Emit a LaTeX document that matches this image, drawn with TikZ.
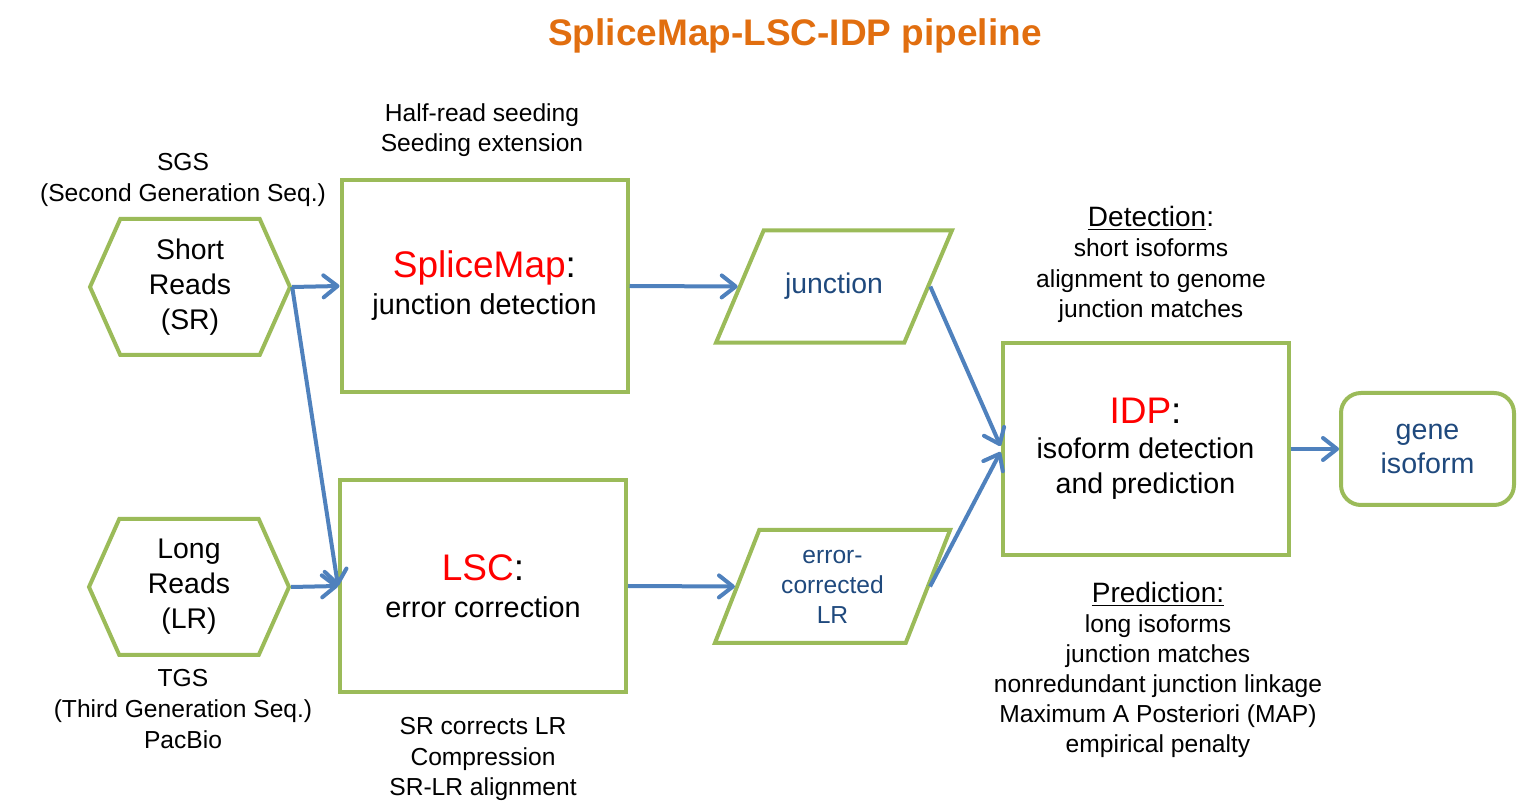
\documentclass[tikz,border=0pt]{standalone}
\usepackage{fontspec}
\setmainfont{Liberation Sans}
\usetikzlibrary{shapes.geometric, shapes.symbols, arrows.meta}

\definecolor{boxgreen}{RGB}{155,187,89}
\definecolor{arrowblue}{RGB}{79,129,189}
\definecolor{darkblue}{RGB}{31,73,125}
\definecolor{titleorange}{RGB}{225,110,15}

\begin{document}
\begin{tikzpicture}[x=0.5pt, y=-0.5pt,
  box/.style={rectangle, draw=boxgreen, line width=2pt, minimum width=143pt, minimum height=106pt, align=center, inner sep=0pt, font=\fontsize{14.4}{18.5}\selectfont},
  reads/.style={signal, signal to=west and east, signal pointer angle=132, draw=boxgreen, line width=2pt, minimum width=100pt, minimum height=68pt, align=center, inner sep=0pt, font=\fontsize{14.2}{17.5}\selectfont},
  data/.style={trapezium, trapezium left angle=67, trapezium right angle=113, draw=boxgreen, line width=2pt, minimum width=118pt, align=center, inner sep=0pt, text=darkblue},
  note/.style={align=center, font=\fontsize{12.3}{15.3}\selectfont},
  arr/.style={-{Straight Barb[length=7pt, width=11pt, round]}, arrowblue, line width=2pt}
]
  \useasboundingbox (0,0) rectangle (1517,812);

  % Title
  \node[font=\fontsize{18.5}{22}\selectfont\bfseries, text=titleorange] (title) at (795,36) {SpliceMap-LSC-IDP pipeline};

  % Input reads
  \node[reads] (sr) at (190,287) {Short\\Reads\\(SR)};
  \node[reads] (lr) at (189,587) {Long\\Reads\\(LR)};
  \node[note] (sgs) at (183,180) {SGS\\(Second Generation Seq.)};
  \node[note] (tgs) at (183,709) {TGS\\(Third Generation Seq.)\\PacBio};

  % SpliceMap and LSC
  \node[box] (splice) at (484.5,286) {{\fontsize{18.5}{18.5}\selectfont\textcolor{red}{SpliceMap}:}\\junction detection};
  \node[box] (lsc) at (483,586) {{\fontsize{18.5}{18.5}\selectfont\textcolor{red}{LSC}:}\\error correction};
  \node[note] (seed) at (482,130) {Half-read seeding\\Seeding extension};
  \node[note] (lscnote) at (483,759) {SR corrects LR\\Compression\\SR-LR alignment};

  % Intermediate data
  \node[data, trapezium stretches body, inner ysep=21.5pt, font=\fontsize{14.2}{17}\selectfont] (junc) at (834,286.5) {junction};
  \node[data, trapezium stretches=true, minimum height=56.5pt, font=\fontsize{12.3}{15}\selectfont] (ecl) at (832.5,586.5) {error-\\corrected\\LR};

  % IDP
  \node[box, font=\fontsize{14.3}{17.5}\selectfont] (idp) at (1145.5,449) {{\fontsize{18.5}{20.5}\selectfont\textcolor{red}{IDP}:}\\isoform detection\\and prediction};
  \node[note] (detnote) at (1151,264.5) {{\fontsize{14}{15.3}\selectfont\underline{Detection}:}\\short isoforms\\alignment to genome\\junction matches};
  \node[note, font=\fontsize{12.3}{15}\selectfont] (prednote) at (1158,669.5) {{\fontsize{14}{15}\selectfont\underline{Prediction:}}\\long isoforms\\junction matches\\nonredundant junction linkage\\Maximum A Posteriori (MAP)\\empirical penalty};

  % Output
  \node[rectangle, rounded corners=10pt, draw=boxgreen, line width=2pt, minimum width=86.5pt, minimum height=56pt, align=center, text=darkblue, font=\fontsize{14.3}{17}\selectfont] (gene) at (1427.5,449) {gene\\isoform};

  % Arrows
  \draw[arr] (sr.east) -- (splice.west);
  \draw[arr] (sr.east) -- (lsc.west);
  \draw[arr] (lr.east) -- (lsc.west);
  \draw[arr] (splice.east) -- (junc.west);
  \draw[arr] (lsc.east) -- (ecl.west);
  \draw[arr] (junc.east) -- ([yshift=1.5pt]idp.west);
  \draw[arr] (ecl.east) -- ([yshift=-1.5pt]idp.west);
  \draw[arr] (idp.east) -- (gene.west);
\end{tikzpicture}
\end{document}
